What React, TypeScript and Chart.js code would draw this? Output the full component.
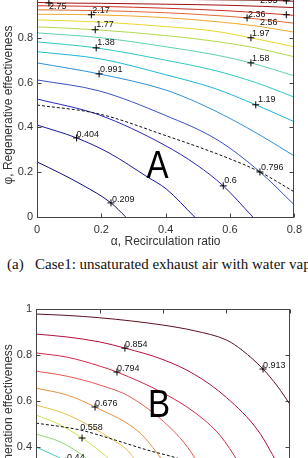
import React, { useEffect, useRef } from "react";
import { Chart, registerables } from "chart.js";

Chart.register(...registerables);

const SANS = '"Liberation Sans", Arial, Helvetica, sans-serif';
const SERIF = '"Liberation Serif", "Times New Roman", Times, serif';

// ---------- panel (a) : top ----------
const topLevels = ["0.209", "0.404", "0.6", "0.796", "0.991", "1.19", "1.38", "1.58", "1.77", "1.97", "2.17", "2.36", "2.56", "2.75", "2.95"];
const topColors = ["#101070", "#1818a0", "#2828b8", "#3a50c0", "#3090d8", "#20b8d8", "#30c8c0", "#60d0b0", "#b0d850", "#e8d830", "#f0a830", "#e06830", "#c83020", "#a01010", "#700808"];
const topLineX = [
  [0, 0.07, 0.141, 0.23, 0.276],
  [0, 0.123, 0.224, 0.343, 0.402, 0.49],
  [0, 0.193, 0.395, 0.497, 0.579, 0.671],
  [0, 0.193, 0.395, 0.561, 0.693, 0.8],
  [0, 0.193, 0.4, 0.5, 0.6, 0.7, 0.8],
  [0, 0.2, 0.4, 0.55, 0.68, 0.8],
  [0, 0.184, 0.4, 0.55, 0.68, 0.8],
  [0, 0.2, 0.4, 0.55, 0.665, 0.8],
  [0, 0.181, 0.4, 0.55, 0.68, 0.8],
  [0, 0.2, 0.4, 0.55, 0.665, 0.8],
  [0, 0.169, 0.4, 0.55, 0.68, 0.8],
  [0, 0.2, 0.4, 0.55, 0.653, 0.8],
  [0, 0.2, 0.4, 0.6, 0.775, 0.8],
  [0, 0.037, 0.2, 0.4, 0.6, 0.8],
  [0, 0.4, 0.6, 0.775, 0.8],
];
const topLineY = [
  [0.246, 0.197, 0.143, 0.063, 0],
  [0.411, 0.353, 0.286, 0.179, 0.125, 0],
  [0.527, 0.456, 0.322, 0.232, 0.139, 0],
  [0.612, 0.563, 0.456, 0.344, 0.201, 0.054],
  [0.688, 0.639, 0.567, 0.51, 0.44, 0.36, 0.272],
  [0.738, 0.705, 0.635, 0.575, 0.501, 0.425],
  [0.782, 0.755, 0.7, 0.655, 0.6, 0.535],
  [0.822, 0.8, 0.76, 0.725, 0.688, 0.63],
  [0.849, 0.836, 0.81, 0.785, 0.755, 0.715],
  [0.88, 0.87, 0.85, 0.83, 0.8, 0.76],
  [0.905, 0.903, 0.89, 0.873, 0.853, 0.825],
  [0.925, 0.921, 0.912, 0.9, 0.889, 0.865],
  [0.943, 0.94, 0.932, 0.92, 0.903, 0.9],
  [0.958, 0.956, 0.954, 0.95, 0.945, 0.935],
  [0.975, 0.972, 0.969, 0.965, 0.963],
];
const topDashX = [0, 0.193, 0.395, 0.592, 0.693, 0.8];
const topDashY = [0.5, 0.46, 0.366, 0.264, 0.201, 0.112];
const topMarkX = [0.23, 0.123, 0.579, 0.693, 0.193, 0.68, 0.184, 0.665, 0.181, 0.665, 0.169, 0.653, 0.775, 0.037, 0.775];
const topMarkY = [0.063, 0.353, 0.139, 0.201, 0.639, 0.501, 0.755, 0.688, 0.836, 0.8, 0.903, 0.889, 0.903, 0.956, 0.965];
const topTextX = [0.233, 0.123, 0.582, 0.696, 0.196, 0.687, 0.187, 0.668, 0.184, 0.668, 0.172, 0.656, 0.693, 0.037, 0.693];
const topTextY = [0.067, 0.358, 0.152, 0.21, 0.648, 0.514, 0.769, 0.697, 0.849, 0.809, 0.912, 0.894, 0.858, 0.93, 0.956];

// ---------- panel (b) : bottom ----------
const botLevels = ["0.913", "0.854", "0.794", "0.735", "0.676", "0.617", "0.558", "0.499", "0.44"];
const botColors = ["#5a1020", "#b0103a", "#d02848", "#e05a50", "#e89040", "#e8c048", "#d0e050", "#90d870", "#40c8c0"];
const botLineX = [
  [0, 0.1, 0.2, 0.3, 0.4, 0.5, 0.6, 0.65, 0.715, 0.76, 0.8],
  [0, 0.1, 0.2, 0.28, 0.4, 0.5, 0.6, 0.7, 0.76],
  [0, 0.1, 0.2, 0.255, 0.4, 0.5, 0.58, 0.64],
  [0, 0.1, 0.2, 0.3, 0.44, 0.49, 0.52],
  [0, 0.1, 0.186, 0.328, 0.381, 0.42],
  [0, 0.1, 0.243, 0.296, 0.33],
  [0, 0.07, 0.145, 0.22, 0.27],
  [0, 0.08, 0.16, 0.23],
  [0, 0.094, 0.15, 0.2],
];
const botLineY = [
  [0.978, 0.972, 0.962, 0.948, 0.93, 0.905, 0.865, 0.82, 0.739, 0.665, 0.585],
  [0.891, 0.878, 0.857, 0.83, 0.78, 0.715, 0.615, 0.47, 0.33],
  [0.809, 0.79, 0.752, 0.726, 0.635, 0.55, 0.45, 0.33],
  [0.73, 0.707, 0.67, 0.615, 0.46, 0.374, 0.3],
  [0.656, 0.625, 0.574, 0.461, 0.374, 0.3],
  [0.583, 0.54, 0.43, 0.374, 0.3],
  [0.539, 0.5, 0.439, 0.36, 0.29],
  [0.457, 0.42, 0.35, 0.26],
  [0.4, 0.339, 0.29, 0.22],
];
const botDashX = [0, 0.139, 0.25, 0.35, 0.444, 0.55];
const botDashY = [0.504, 0.474, 0.43, 0.387, 0.352, 0.3];
const botMarkX = [0.715, 0.28, 0.255, 0.186, 0.145, 0.094];
const botMarkY = [0.739, 0.83, 0.726, 0.574, 0.439, 0.339];
const botTextX = [0.715, 0.28, 0.255, 0.186, 0.139, 0.098];
const botTextY = [0.743, 0.835, 0.73, 0.578, 0.474, 0.343];

const xTickValues = [0, 0.2, 0.4, 0.6, 0.8];
const yTickValues = [0, 0.2, 0.4, 0.6, 0.8, 1];

const fmt = (v: any) => String(Math.round(Number(v) * 10) / 10);

const decorPlugin = {
  id: "decor",
  afterDatasetsDraw(chart: any, _args: any, opts: any) {
    const { ctx, chartArea: a, scales } = chart;
    const xs = scales.x;
    const ys = scales.y;
    ctx.save();
    // contour labels
    ctx.fillStyle = "#111";
    ctx.font = `9px ${SANS}`;
    ctx.textAlign = "left";
    ctx.textBaseline = "alphabetic";
    (opts.texts || []).forEach((t: any) => {
      ctx.fillText(t.text, xs.getPixelForValue(t.x), ys.getPixelForValue(t.y));
    });
    // big letter
    if (opts.letter) {
      ctx.save();
      ctx.translate(xs.getPixelForValue(opts.letter.x), ys.getPixelForValue(opts.letter.y));
      ctx.scale(0.85, 1);
      ctx.font = `39px ${SANS}`;
      ctx.fillStyle = "#000";
      ctx.fillText(opts.letter.text, 0, 0);
      ctx.restore();
    }
    // frame
    ctx.strokeStyle = "#444";
    ctx.lineWidth = 1;
    const L = Math.round(a.left) + 0.5;
    const R = Math.round(a.right) - 0.5;
    const T = Math.round(a.top) + 0.5;
    const B = Math.round(a.bottom) + 0.5;
    ctx.strokeRect(L, T, R - L, B - T);
    // inward ticks
    ctx.beginPath();
    xTickValues.forEach((v) => {
      const px = Math.round(xs.getPixelForValue(v)) + 0.5;
      ctx.moveTo(px, B);
      ctx.lineTo(px, B - 4);
      ctx.moveTo(px, T);
      ctx.lineTo(px, T + 4);
    });
    yTickValues.forEach((v) => {
      const py = Math.round(ys.getPixelForValue(v)) + 0.5;
      ctx.moveTo(L, py);
      ctx.lineTo(L + 4, py);
      ctx.moveTo(R, py);
      ctx.lineTo(R - 4, py);
    });
    ctx.stroke();
    ctx.restore();
  },
};

function buildConfig(p: any) {
  const datasets: any[] = [];
  datasets.push({
    data: p.markX.map((x: number, i: number) => ({ x, y: p.markY[i] })),
    showLine: false,
    pointStyle: "cross",
    pointRadius: 3.5,
    pointBorderColor: "#000",
    pointBorderWidth: 1,
    pointBackgroundColor: "#000",
  });
  datasets.push({
    data: p.dashX.map((x: number, i: number) => ({ x, y: p.dashY[i] })),
    showLine: true,
    borderColor: "#111",
    borderWidth: 1,
    borderDash: [3, 2],
    pointRadius: 0,
    cubicInterpolationMode: "monotone",
  });
  p.lineX.forEach((xsArr: number[], k: number) => {
    datasets.push({
      label: p.levels[k],
      data: xsArr.map((x, i) => ({ x, y: p.lineY[k][i] })),
      showLine: true,
      borderColor: p.colors[k],
      borderWidth: 1,
      pointRadius: 0,
      cubicInterpolationMode: "monotone",
    });
  });
  const texts = p.textX.map((x: number, i: number) => ({ x, y: p.textY[i], text: p.texts[i] }));
  return {
    type: "scatter",
    data: { datasets },
    options: {
      animation: false,
      responsive: false,
      devicePixelRatio: 1,
      events: [],
      layout: { padding: { top: p.padTop, right: p.padRight, left: 0, bottom: 0 } },
      plugins: {
        legend: { display: false },
        tooltip: { enabled: false },
        decor: { texts, letter: p.letter },
      },
      scales: {
        x: {
          type: "linear",
          min: 0,
          max: 0.8,
          afterFit: (s: any) => {
            s.height = p.xHeight;
          },
          grid: { display: false, drawTicks: false },
          border: { display: false },
          ticks: { stepSize: 0.2, padding: 6, color: "#333", font: { family: SANS, size: 11 }, callback: fmt, maxRotation: 0 },
          title: { display: true, text: "α, Recirculation ratio", color: "#333", font: { family: SANS, size: 12 }, padding: { top: 0, bottom: 1 } },
        },
        y: {
          type: "linear",
          min: 0,
          max: 1,
          afterFit: (s: any) => {
            s.width = p.yWidth;
          },
          grid: { display: false, drawTicks: false },
          border: { display: false },
          ticks: { stepSize: 0.2, padding: 4, color: "#333", font: { family: SANS, size: 11 }, callback: fmt },
          title: { display: true, text: p.yTitle, color: "#333", font: { family: SANS, size: 12 }, padding: { top: 1, bottom: 0 } },
        },
      },
    },
    plugins: [decorPlugin],
  } as any;
}

export default function App() {
  const topRef = useRef<HTMLCanvasElement>(null);
  const botRef = useRef<HTMLCanvasElement>(null);

  useEffect(() => {
    const c1 = new Chart(
      topRef.current as HTMLCanvasElement,
      buildConfig({
        levels: topLevels,
        colors: topColors,
        lineX: topLineX,
        lineY: topLineY,
        dashX: topDashX,
        dashY: topDashY,
        markX: topMarkX,
        markY: topMarkY,
        textX: topTextX,
        textY: topTextY,
        texts: topLevels,
        letter: { text: "A", x: 0.34, y: 0.174 },
        yTitle: "φ, Regenerative effectiveness",
        padTop: 13,
        padRight: 10,
        xHeight: 33,
        yWidth: 37,
      })
    );
    const c2 = new Chart(
      botRef.current as HTMLCanvasElement,
      buildConfig({
        levels: botLevels,
        colors: botColors,
        lineX: botLineX,
        lineY: botLineY,
        dashX: botDashX,
        dashY: botDashY,
        markX: botMarkX,
        markY: botMarkY,
        textX: botTextX,
        textY: botTextY,
        texts: botLevels.filter((l) => ["0.913", "0.854", "0.794", "0.676", "0.558", "0.44"].includes(l)),
        letter: { text: "B", x: 0.353, y: 0.53 },
        yTitle: "φ, Regeneration effectiveness",
        padTop: 19,
        padRight: 18,
        xHeight: 51,
        yWidth: 36,
      })
    );
    return () => {
      c1.destroy();
      c2.destroy();
    };
  }, []);

  const capStyle: React.CSSProperties = {
    position: "absolute",
    top: 257,
    font: `15px ${SERIF}`,
    lineHeight: "15px",
    whiteSpace: "nowrap",
    color: "#111",
  };

  return (
    <div style={{ position: "fixed", left: 0, top: 0, width: 308, height: 458, overflow: "hidden", background: "#fff" }}>
      <canvas ref={topRef} width={308} height={270} style={{ position: "absolute", left: 0, top: -20, width: 308, height: 270 }} />
      <div style={{ ...capStyle, left: 7 }}>(a)</div>
      <div style={{ ...capStyle, left: 35 }}>Case1: unsaturated exhaust air with water vapor</div>
      <canvas ref={botRef} width={308} height={300} style={{ position: "absolute", left: 0, top: 290, width: 308, height: 300 }} />
    </div>
  );
}
